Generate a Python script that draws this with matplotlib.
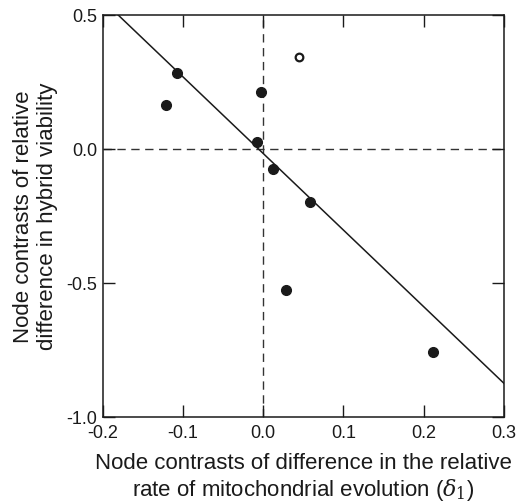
import matplotlib
matplotlib.use("Agg")
import matplotlib.pyplot as plt
import numpy as np

plt.rcParams['font.family'] = ['Liberation Sans', 'DejaVu Sans']
plt.rcParams['axes.unicode_minus'] = False
plt.rcParams['mathtext.fontset'] = 'dejavuserif'

# filled points: node contrasts (delta_1, hybrid viability)
x_filled = [-0.107, -0.121, -0.003, -0.008, 0.012, 0.058, 0.029, 0.211]
y_filled = [0.282, 0.163, 0.213, 0.025, -0.076, -0.198, -0.526, -0.759]
# open point
x_open = [0.045]
y_open = [0.342]
# regression line
slope = -2.86
intercept = -0.018

xticks = [-0.2, -0.1, 0.0, 0.1, 0.2, 0.3]
yticks = [-1.0, -0.5, 0.0, 0.5]

fig = plt.figure(figsize=(5.19, 5.02), dpi=100)
ax = fig.add_axes([102.7/519, 1 - 417.6/502, (504 - 102.7)/519, (417.6 - 15.7)/502])

ink = '#1a1a1a'
ax.axvline(0, color='#333333', lw=1.0, ls=(0, (6, 4)), zorder=1)
ax.axhline(0, color='#333333', lw=1.0, ls=(0, (6, 4)), zorder=1)

xl = np.array([-0.2, 0.3])
ax.plot(xl, slope * xl + intercept, color=ink, lw=1.1, zorder=2)

ax.plot(x_filled, y_filled, 'o', color=ink, ms=7, zorder=3)
ax.plot(x_open, y_open, 'o', mfc='white', mec=ink, mew=1.6, ms=5.5, zorder=3)

ax.set_xlim(-0.2, 0.3)
ax.set_ylim(-1.0, 0.5)
ax.set_xticks(xticks)
ax.set_yticks(yticks)
ax.set_xticklabels(['%.1f' % v for v in xticks])
ax.set_yticklabels(['%.1f' % v for v in yticks])
ax.tick_params(direction='in', length=8.5, width=1.0, color=ink,
               top=True, right=True, labelsize=13, labelcolor=ink)
ax.tick_params(axis='x', pad=5)
ax.tick_params(axis='y', pad=4)
for s in ax.spines.values():
    s.set_linewidth(1.1)
    s.set_color(ink)

ax.set_xlabel('Node contrasts of difference in the relative\n'
              r'rate of mitochondrial evolution ($\delta_1$)',
              fontsize=16, color=ink, labelpad=8, linespacing=1.2)
ax.set_ylabel('Node contrasts of relative\ndifference in hybrid viability',
              fontsize=16, color=ink, labelpad=6, linespacing=1.2)

fig.savefig('out.png', dpi=100)
